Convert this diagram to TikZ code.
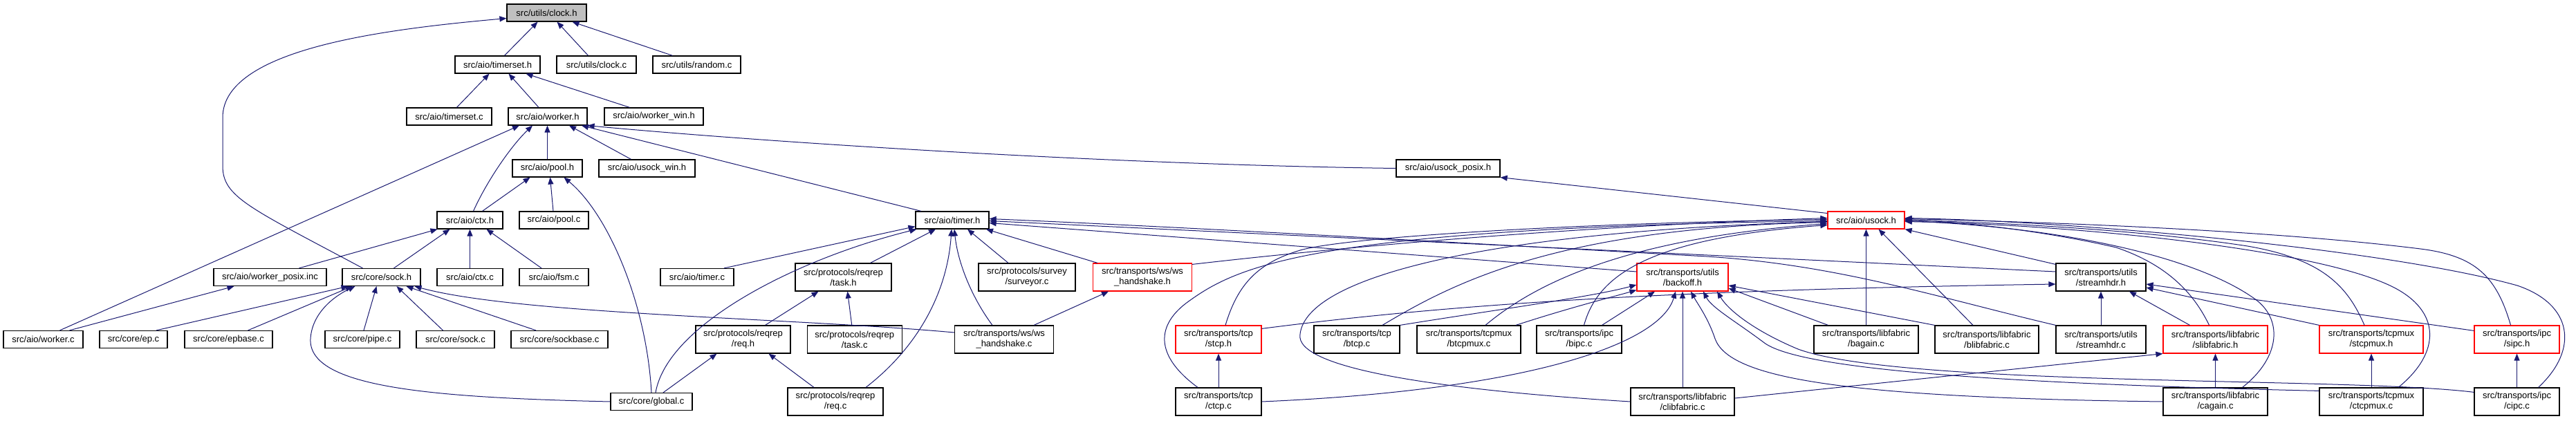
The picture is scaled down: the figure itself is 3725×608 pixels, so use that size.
\documentclass[tikz,border=0pt]{standalone}
\usepackage{fontspec}
\newfontfamily\graphfont{Liberation Sans}
\usetikzlibrary{arrows.meta}
\definecolor{EdgeClr}{rgb}{0.098,0.098,0.439}
\definecolor{RootClr}{rgb}{0.75,0.75,0.75}
\definecolor{TruncClr}{rgb}{1,0,0}

\begin{document}
\begin{tikzpicture}[x=1pt,y=-1pt,
  file/.style={draw=black,line width=1.2pt,fill=white,inner sep=0pt,minimum height=25pt,
    align=center,font=\graphfont\fontsize{13}{15}\selectfont},
  twoline/.style={file,minimum height=40pt},
  trunc/.style={draw=TruncClr},
  root/.style={fill=RootClr},
  incl/.style={draw=EdgeClr,line width=1pt,-{Triangle[length=10pt,width=8pt]}}]

\useasboundingbox (0,0) rectangle (3725,608);

\node[file,root,minimum width=115pt] (clockh) at (790.5,18.5) {src/utils/clock.h};

\node[file,minimum width=123pt] (timerseth) at (719.5,93.5) {src/aio/timerset.h};
\node[file,minimum width=115pt] (clockc) at (862.5,93.5) {src/utils/clock.c};
\node[file,minimum width=127pt] (randomc) at (1007.5,93.5) {src/utils/random.c};

\node[file,minimum width=123pt] (timersetc) at (649.5,168.5) {src/aio/timerset.c};
\node[file,minimum width=114pt] (workerh) at (792,168.5) {src/aio/worker.h};
\node[file,minimum width=143pt] (workerwinh) at (945.5,168.5) {src/aio/worker\_win.h};

\node[file,minimum width=101pt] (poolh) at (791.5,243.5) {src/aio/pool.h};
\node[file,minimum width=139pt] (usockwinh) at (935.5,243.5) {src/aio/usock\_win.h};
\node[file,minimum width=150pt] (usockposixh) at (2094,243.5) {src/aio/usock\_posix.h};

\node[file,minimum width=95pt] (ctxh) at (679.5,318.5) {src/aio/ctx.h};
\node[file,minimum width=100pt] (poolc) at (801,318.5) {src/aio/pool.c};
\node[file,minimum width=106pt] (timerh) at (1377,318.5) {src/aio/timer.h};
\node[file,trunc,minimum width=111pt] (usockh) at (2698.5,318.5) {src/aio/usock.h};

\node[file,minimum width=163pt] (workerposixinc) at (390.5,401) {src/aio/worker\_posix.inc};
\node[file,minimum width=113pt] (sockh) at (551.5,401) {src/core/sock.h};
\node[file,minimum width=95pt] (ctxc) at (679.5,401) {src/aio/ctx.c};
\node[file,minimum width=100pt] (fsmc) at (801,401) {src/aio/fsm.c};
\node[file,minimum width=106pt] (timerc) at (1008,401) {src/aio/timer.c};
\node[twoline,minimum width=139pt] (taskh) at (1219.5,401) {src/protocols/reqrep\\/task.h};
\node[twoline,minimum width=140pt] (surveyorc) at (1485,401) {src/protocols/survey\\/surveyor.c};
\node[twoline,trunc,minimum width=143pt] (wshandshakeh) at (1652,401) {src/transports/ws/ws\\\_handshake.h};
\node[twoline,trunc,minimum width=132pt] (backoffh) at (2433,401) {src/transports/utils\\/backoff.h};
\node[twoline,minimum width=130pt] (streamhdrh) at (3038,401) {src/transports/utils\\/streamhdr.h};

\node[file,minimum width=115pt] (workerc) at (62.5,491) {src/aio/worker.c};
\node[file,minimum width=98pt] (epc) at (193,491) {src/core/ep.c};
\node[file,minimum width=127pt] (epbasec) at (330.5,491) {src/core/epbase.c};
\node[file,minimum width=108pt] (pipec) at (524,491) {src/core/pipe.c};
\node[file,minimum width=113pt] (sockc) at (658.5,491) {src/core/sock.c};
\node[file,minimum width=140pt] (sockbasec) at (809,491) {src/core/sockbase.c};
\node[twoline,minimum width=137pt] (reqh) at (1074.5,491) {src/protocols/reqrep\\/req.h};
\node[twoline,minimum width=137pt] (taskc) at (1235.75,491) {src/protocols/reqrep\\/task.c};
\node[twoline,minimum width=143pt] (wshandshakec) at (1452,491) {src/transports/ws/ws\\\_handshake.c};
\node[twoline,trunc,minimum width=124pt] (stcph) at (1762,491) {src/transports/tcp\\/stcp.h};
\node[twoline,minimum width=124pt] (btcpc) at (1962,491) {src/transports/tcp\\/btcp.c};
\node[twoline,minimum width=150pt] (btcpmuxc) at (2124,491) {src/transports/tcpmux\\/btcpmux.c};
\node[twoline,minimum width=123pt] (bipcc) at (2283.5,491) {src/transports/ipc\\/bipc.c};
\node[twoline,minimum width=151pt] (bagainc) at (2698.5,491) {src/transports/libfabric\\/bagain.c};
\node[twoline,minimum width=150pt] (blibfabricc) at (2873,491) {src/transports/libfabric\\/blibfabric.c};
\node[twoline,minimum width=130pt] (streamhdrc) at (3038,491) {src/transports/utils\\/streamhdr.c};
\node[twoline,trunc,minimum width=151pt] (slibfabrich) at (3203.5,491) {src/transports/libfabric\\/slibfabric.h};
\node[twoline,trunc,minimum width=150pt] (stcpmuxh) at (3429,491) {src/transports/tcpmux\\/stcpmux.h};
\node[twoline,trunc,minimum width=123pt] (sipch) at (3639.5,491) {src/transports/ipc\\/sipc.h};

\node[file,minimum width=118pt] (globalc) at (942,581) {src/core/global.c};
\node[twoline,minimum width=138pt] (reqc) at (1208,581) {src/protocols/reqrep\\/req.c};
\node[twoline,minimum width=124pt] (ctcpc) at (1762,581) {src/transports/tcp\\/ctcp.c};
\node[twoline,minimum width=150pt] (clibfabricc) at (2433,581) {src/transports/libfabric\\/clibfabric.c};
\node[twoline,minimum width=151pt] (cagainc) at (3203.5,581) {src/transports/libfabric\\/cagain.c};
\node[twoline,minimum width=150pt] (ctcpmuxc) at (3429,581) {src/transports/tcpmux\\/ctcpmux.c};
\node[twoline,minimum width=123pt] (cipcc) at (3639.5,581) {src/transports/ipc\\/cipc.c};

\draw[incl] ([xshift=10pt]timerseth.north) -- ([xshift=-13pt]clockh.south);
\draw[incl] ([xshift=-12pt]clockc.north) -- ([xshift=15pt]clockh.south);
\draw[incl] ([xshift=-35pt]randomc.north) -- ([xshift=37pt]clockh.south);
\draw[incl] ([xshift=-27pt]sockh.north) .. controls (360,300) and (322,285) .. (322,240) -- (322,170) .. controls (322,70) and (560,42) .. ([yshift=-8pt]clockh.west);

\draw[incl] ([xshift=11pt]timersetc.north) -- ([xshift=-12pt]timerseth.south);
\draw[incl] ([xshift=-13pt]workerh.north) -- ([xshift=16pt]timerseth.south);
\draw[incl] ([xshift=-35pt]workerwinh.north) -- ([xshift=41pt]timerseth.south);

\draw[incl] ([xshift=5pt]ctxh.north) .. controls (705,260) and (740,210) .. ([xshift=-22pt]workerh.south);
\draw[incl] (poolh.north) -- (poolh.north |- workerh.south);
\draw[incl] ([xshift=-23pt]usockwinh.north) -- ([xshift=31pt]workerh.south);
\draw[incl] ([xshift=24pt]workerc.north) -- ([xshift=-41pt]workerh.south);
\draw[incl] ([xshift=-45pt]timerh.north) -- ([xshift=49pt]workerh.south);
\draw[incl] (usockposixh.west) .. controls (1600,238) and (1100,205) .. (workerh.south east);

\draw[incl] ([xshift=18pt]ctxh.north) -- ([xshift=-25pt]poolh.south);
\draw[incl] ([xshift=-1pt]poolc.north) -- ([xshift=4pt]poolh.south);
\draw[incl] (globalc.north) .. controls (935,440) and (880,310) .. ([xshift=24pt]poolh.south);

\draw[incl] ([xshift=42pt]workerposixinc.north) -- ([xshift=-47pt]ctxh.south);
\draw[incl] ([xshift=18pt]sockh.north) -- ([xshift=-29pt]ctxh.south);
\draw[incl] (ctxc.north) -- (ctxh.south);
\draw[incl] ([xshift=-18pt]fsmc.north) -- ([xshift=24pt]ctxh.south);

\draw[incl] ([xshift=38pt]workerc.north) -- ([xshift=-52pt]workerposixinc.south);

\draw[incl] ([xshift=33pt]epc.north) -- ([xshift=-48pt]sockh.south);
\draw[incl] ([xshift=28pt]epbasec.north) -- ([xshift=-42pt]sockh.south);
\draw[incl] ([xshift=2pt]pipec.north) -- ([xshift=-7pt]sockh.south);
\draw[incl] ([xshift=-18pt]sockc.north) -- ([xshift=22pt]sockh.south);
\draw[incl] ([xshift=-34pt]sockbasec.north) -- ([xshift=36pt]sockh.south);
\draw[incl] (globalc.west) .. controls (620,575) and (445,560) .. (449,490) .. controls (451,455) and (480,430) .. ([xshift=-38pt]sockh.south);
\draw[incl] ([yshift=10pt]wshandshakec.west) .. controls (1150,460) and (750,455) .. ([xshift=48pt]sockh.south);

\draw[incl] ([xshift=39pt]taskh.north) -- ([xshift=-24pt]timerh.south);
\draw[incl] ([xshift=39pt]timerc.north) -- ([yshift=4pt]timerh.south west);
\draw[incl] ([xshift=6pt]globalc.north) .. controls (965,470) and (1150,375) .. ([xshift=2pt]timerh.south west);
\draw[incl] ([xshift=44pt]reqc.north) .. controls (1330,500) and (1370,420) .. ([xshift=-1pt]timerh.south);
\draw[incl] ([xshift=-17pt]wshandshakec.north) .. controls (1405,430) and (1385,380) .. ([xshift=3pt]timerh.south);
\draw[incl] ([xshift=-27pt]surveyorc.north) -- ([xshift=22pt]timerh.south);
\draw[incl] ([xshift=-65pt]wshandshakeh.north) -- ([xshift=49pt]timerh.south);
\draw[incl] ([yshift=8pt]backoffh.west) -- ([yshift=-4pt]timerh.east);
\draw[incl] ([yshift=8pt]streamhdrh.west) -- ([yshift=-1pt]timerh.east);
\draw[incl] (streamhdrc.north west) .. controls (2800,430) and (2650,380) .. (2450,370) .. controls (2000,345) and (1700,328) .. ([yshift=2pt]timerh.east);

\draw[incl] ([xshift=32pt]reqh.north) -- ([xshift=-36pt]taskh.south);
\draw[incl] ([xshift=-4pt]taskc.north) -- ([xshift=6pt]taskh.south);
\draw[incl] ([xshift=17pt]globalc.north) -- ([xshift=-38pt]reqh.south);
\draw[incl] ([xshift=-31pt]reqc.north) -- ([xshift=37pt]reqh.south);
\draw[incl] ([xshift=43pt]wshandshakec.north) -- ([xshift=-49pt]wshandshakeh.south);

\draw[incl] ([yshift=10pt]usockh.west) -- (usockposixh.south east);
\draw[incl] ([yshift=-2pt]wshandshakeh.north east) .. controls (1850,368) and (2200,330) .. ([yshift=3pt]usockh.west);
\draw[incl] ([xshift=10pt]stcph.north) .. controls (1790,410) and (1820,380) .. (1880,362) .. controls (1950,342) and (2300,322) .. ([yshift=1pt]usockh.west);
\draw[incl] ([xshift=-30pt]ctcpc.north) .. controls (1670,515) and (1670,470) .. (1720,435) .. controls (1790,385) and (1900,330) .. ([yshift=-1pt]usockh.west);
\draw[incl] ([xshift=37pt]btcpc.north) .. controls (2100,410) and (2250,330) .. ([yshift=-3pt]usockh.west);
\draw[incl] ([xshift=24pt]btcpmuxc.north) .. controls (2220,410) and (2350,345) .. ([yshift=-5pt]usockh.west);
\draw[incl] ([xshift=7pt]bipcc.north) .. controls (2310,400) and (2380,345) .. ([yshift=-7pt]usockh.west);
\draw[incl] (clibfabricc.west) .. controls (2100,565) and (1870,535) .. (1880,483) .. controls (1890,400) and (2150,335) .. ([yshift=-2pt]usockh.west);
\draw[incl] (bagainc.north) -- (bagainc.north |- usockh.south);
\draw[incl] ([xshift=-20pt]blibfabricc.north) -- ([xshift=18pt]usockh.south);
\draw[incl] ([yshift=-2pt]streamhdrh.north west) -- (usockh.south east);

\draw[incl] ([xshift=-9pt]slibfabrich.north) .. controls (3175,430) and (3140,385) .. (3060,358) .. controls (2960,335) and (2850,322) .. ([yshift=1pt]usockh.east);
\draw[incl] ([xshift=39pt]cagainc.north) .. controls (3300,515) and (3300,460) .. (3260,432) .. controls (3180,375) and (3000,330) .. ([yshift=-1pt]usockh.east);
\draw[incl] ([xshift=-10pt]stcpmuxh.north) .. controls (3395,415) and (3360,375) .. (3250,356) .. controls (3100,333) and (2900,322) .. (usockh.east);
\draw[incl] ([xshift=39pt]ctcpmuxc.north) .. controls (3530,510) and (3530,450) .. (3460,415) .. controls (3350,360) and (3000,325) .. ([yshift=-2pt]usockh.east);
\draw[incl] ([xshift=-9pt]sipch.north) .. controls (3610,400) and (3580,370) .. (3500,360) .. controls (3300,335) and (3000,322) .. ([yshift=2pt]usockh.east);
\draw[incl] ([xshift=31pt]cipcc.north) .. controls (3730,505) and (3720,440) .. (3640,413) .. controls (3450,360) and (3000,320) .. ([yshift=3pt]usockh.east);

\draw[incl] (btcpc.north east) .. controls (2150,450) and (2300,430) .. ([yshift=-11pt]backoffh.west);
\draw[incl] ([xshift=68pt]btcpmuxc.north) .. controls (2270,445) and (2330,430) .. ([yshift=2pt]backoffh.south west);
\draw[incl] ([xshift=33pt]bipcc.north) -- ([xshift=-40pt]backoffh.south);
\draw[incl] (ctcpc.east) .. controls (2200,565) and (2400,500) .. ([xshift=-10pt]backoffh.south);
\draw[incl] (clibfabricc.north) -- (backoffh.south);
\draw[incl] (cagainc.west) .. controls (2650,575) and (2500,545) .. (2480,490) .. controls (2470,460) and (2455,440) .. ([xshift=12pt]backoffh.south);
\draw[incl] ([yshift=-5pt]ctcpmuxc.north west) .. controls (2900,555) and (2600,535) .. (2550,495) .. controls (2510,465) and (2475,445) .. ([xshift=30pt]backoffh.south);
\draw[incl] ([yshift=-7pt]cipcc.north west) .. controls (3400,545) and (2750,560) .. (2600,505) .. controls (2540,480) and (2500,450) .. ([xshift=50pt]backoffh.south);
\draw[incl] ([xshift=-55pt]bagainc.north) -- ([yshift=-16pt]backoffh.east);
\draw[incl] (blibfabricc.north west) -- ([yshift=-12pt]backoffh.east);

\draw[incl] (streamhdrc.north) -- (streamhdrh.south);
\draw[incl] ([yshift=-5pt]stcph.north east) .. controls (2100,440) and (2400,420) .. ([yshift=-10pt]streamhdrh.west);
\draw[incl] ([xshift=-37pt]slibfabrich.north) -- ([xshift=41pt]streamhdrh.south);
\draw[incl] (stcpmuxh.north west) -- ([yshift=-15pt]streamhdrh.east);
\draw[incl] ([yshift=-8pt]sipch.north west) -- ([yshift=-10pt]streamhdrh.east);

\draw[incl] (ctcpc.north) -- (stcph.south);
\draw[incl] (cagainc.north) -- (slibfabrich.south);
\draw[incl] (ctcpmuxc.north) -- (stcpmuxh.south);
\draw[incl] (cipcc.north) -- (sipch.south);
\draw[incl] ([yshift=5pt]clibfabricc.east) -- (slibfabrich.south west);

\end{tikzpicture}
\end{document}
